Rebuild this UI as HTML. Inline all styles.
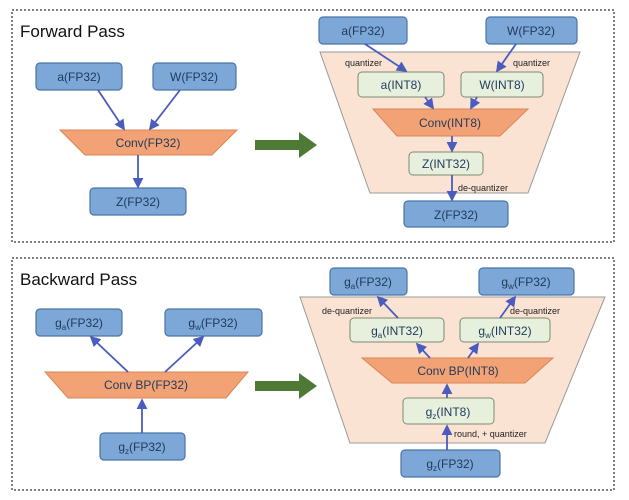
<!DOCTYPE html>
<html><head><style>
body{margin:0;background:#fff;}
svg{display:block;font-family:"Liberation Sans",sans-serif;}
.b{fill:#7ca7d6;stroke:#4a74a8;stroke-width:1.2;}
.g{fill:#e6f0dd;stroke:#7e8a72;stroke-width:1;}
.t{font-size:12px;fill:#1f3a5c;text-anchor:middle;}
.s{font-size:9px;fill:#222;}
.l{stroke:#4a5cbe;stroke-width:1.8;fill:none;marker-end:url(#ar);}
</style></head><body>
<svg width="629" height="500" viewBox="0 0 629 500">
<defs><marker id="ar" markerWidth="6" markerHeight="6" refX="5" refY="3" orient="auto"><path d="M0,0L6,3L0,6z" fill="#4a5cbe"/></marker></defs>
<rect x="12" y="10" width="602" height="232" fill="none" stroke="#555" stroke-dasharray="2,2" stroke-width="1.5"/>
<rect x="12" y="258" width="602" height="232" fill="none" stroke="#555" stroke-dasharray="2,2" stroke-width="1.5"/>
<text x="20" y="37" font-size="17" fill="#111">Forward Pass</text>
<text x="20" y="285" font-size="17" fill="#111">Backward Pass</text>
<!-- green arrows -->
<path d="M255,140h44v-8l18,13l-18,13v-8h-44z" fill="#4e7a35"/>
<path d="M255,381h44v-8l18,13l-18,13v-8h-44z" fill="#4e7a35"/>
<!-- Forward left -->
<rect class="b" x="36" y="63" width="86" height="27" rx="4"/><text class="t" x="79" y="81">a(FP32)</text>
<rect class="b" x="153" y="63" width="83" height="27" rx="4"/><text class="t" x="194" y="81">W(FP32)</text>
<polygon points="60,130 237,130 212,155 85,155" fill="#f2a274" stroke="#d98656"/>
<text class="t" x="148" y="147">Conv(FP32)</text>
<rect class="b" x="90" y="188" width="96" height="27" rx="4"/><text class="t" x="138" y="206">Z(FP32)</text>
<line class="l" x1="98" y1="90" x2="124" y2="129"/>
<line class="l" x1="180" y1="90" x2="150" y2="129"/>
<line class="l" x1="138" y1="155" x2="138" y2="187"/>
<!-- Forward right -->
<polygon points="320,52 580,52 528,193 370,193" fill="#fbe3d3" stroke="#999"/>
<rect class="b" x="319" y="17" width="88" height="27" rx="4"/><text class="t" x="363" y="35">a(FP32)</text>
<rect class="b" x="486" y="17" width="91" height="27" rx="4"/><text class="t" x="531" y="35">W(FP32)</text>
<rect class="g" x="358" y="72" width="86" height="25" rx="4"/><text class="t" x="401" y="89">a(INT8)</text>
<rect class="g" x="461" y="72" width="82" height="25" rx="4"/><text class="t" x="502" y="89">W(INT8)</text>
<polygon points="373,109 528,109 500,136 397,136" fill="#f2a274" stroke="#d98656"/>
<text class="t" x="450" y="127">Conv(INT8)</text>
<rect class="g" x="409" y="152" width="74" height="23" rx="4"/><text class="t" x="446" y="168">Z(INT32)</text>
<rect class="b" x="404" y="201" width="104" height="26" rx="4"/><text class="t" x="456" y="219">Z(FP32)</text>
<text class="s" x="345" y="66">quantizer</text>
<text class="s" x="513" y="66">quantizer</text>
<text class="s" x="458" y="191">de-quantizer</text>
<line class="l" x1="365" y1="44" x2="406" y2="71"/>
<line class="l" x1="516" y1="44" x2="497" y2="71"/>
<line class="l" x1="425" y1="97" x2="433" y2="108"/>
<line class="l" x1="477" y1="97" x2="471" y2="108"/>
<line class="l" x1="452" y1="136" x2="452" y2="151"/>
<line class="l" x1="452" y1="175" x2="452" y2="200"/>
<!-- Backward left -->
<rect class="b" x="36" y="309" width="86" height="27" rx="4"/><text class="t" x="79" y="327">g<tspan font-size="8" dy="3">a</tspan><tspan dy="-3">(FP32)</tspan></text>
<rect class="b" x="165" y="309" width="97" height="27" rx="4"/><text class="t" x="213" y="327">g<tspan font-size="8" dy="3">w</tspan><tspan dy="-3">(FP32)</tspan></text>
<polygon points="45,372 248,372 226,398 68,398" fill="#f2a274" stroke="#d98656"/>
<text class="t" x="146" y="389">Conv BP(FP32)</text>
<rect class="b" x="100" y="433" width="85" height="27" rx="4"/><text class="t" x="142" y="451">g<tspan font-size="8" dy="3">z</tspan><tspan dy="-3">(FP32)</tspan></text>
<line class="l" x1="142" y1="433" x2="142" y2="400"/>
<line class="l" x1="128" y1="372" x2="91" y2="337"/>
<line class="l" x1="165" y1="372" x2="203" y2="337"/>
<!-- Backward right -->
<polygon points="300,297 605,297 545,443 350,443" fill="#fbe3d3" stroke="#999"/>
<rect class="b" x="330" y="268" width="77" height="27" rx="4"/><text class="t" x="368" y="286">g<tspan font-size="8" dy="3">a</tspan><tspan dy="-3">(FP32)</tspan></text>
<rect class="b" x="479" y="268" width="95" height="27" rx="4"/><text class="t" x="526" y="286">g<tspan font-size="8" dy="3">w</tspan><tspan dy="-3">(FP32)</tspan></text>
<rect class="g" x="350" y="318" width="94" height="24" rx="4"/><text class="t" x="397" y="335">g<tspan font-size="8" dy="3">a</tspan><tspan dy="-3">(INT32)</tspan></text>
<rect class="g" x="460" y="318" width="90" height="24" rx="4"/><text class="t" x="505" y="335">g<tspan font-size="8" dy="3">w</tspan><tspan dy="-3">(INT32)</tspan></text>
<polygon points="362,358 553,358 525,383 392,383" fill="#f2a274" stroke="#d98656"/>
<text class="t" x="458" y="375">Conv BP(INT8)</text>
<rect class="g" x="403" y="398" width="91" height="26" rx="4"/><text class="t" x="448" y="416">g<tspan font-size="8" dy="3">z</tspan><tspan dy="-3">(INT8)</tspan></text>
<rect class="b" x="401" y="450" width="99" height="27" rx="4"/><text class="t" x="450" y="468">g<tspan font-size="8" dy="3">z</tspan><tspan dy="-3">(FP32)</tspan></text>
<text class="s" x="322" y="314">de-quantizer</text>
<text class="s" x="510" y="314">de-quantizer</text>
<text class="s" x="454" y="437">round, + quantizer</text>
<line class="l" x1="447" y1="450" x2="447" y2="426"/>
<line class="l" x1="447" y1="398" x2="447" y2="385"/>
<line class="l" x1="430" y1="358" x2="417" y2="344"/>
<line class="l" x1="468" y1="358" x2="478" y2="344"/>
<line class="l" x1="398" y1="318" x2="378" y2="297"/>
<line class="l" x1="500" y1="318" x2="515" y2="297"/>
</svg>
</body></html>
